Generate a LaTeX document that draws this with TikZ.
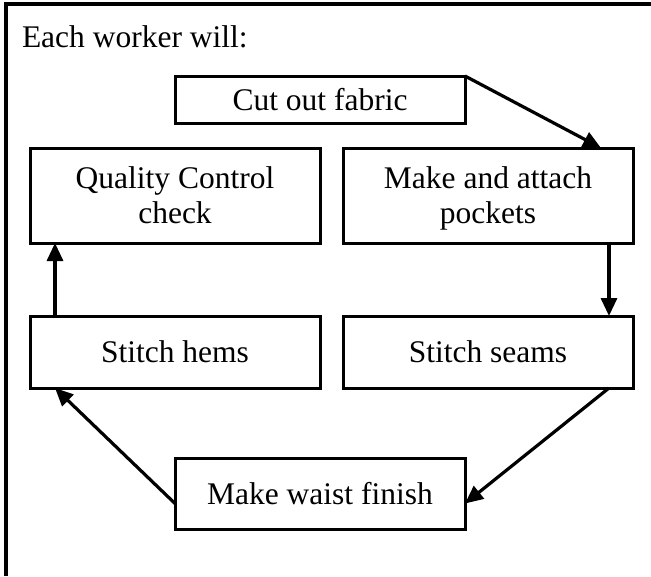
\documentclass[tikz,border=0pt]{standalone}
\usepackage{fontspec}
\setmainfont{Liberation Serif}
\usetikzlibrary{arrows.meta}

\begin{document}
\begin{tikzpicture}[x=1pt,y=-1pt,inner sep=0pt,outer sep=0pt,line width=3.2pt,
>={Triangle[length=18pt,width=16pt]},
stepbox/.style={draw,rectangle,align=center,minimum width=290pt,line width=3pt,
font=\fontsize{31.5}{35}\selectfont,text depth=0pt}]
\useasboundingbox (0,0) rectangle (651,576);
\draw (651,4) -| (6,576);
\draw (22,47) node[anchor=base west,font=\fontsize{31.5}{35}\selectfont] (title) {Each worker will:};
\draw (320,99.5) node[stepbox,minimum height=47pt] (cut) {Cut out fabric};
\draw (175,195.5) node[stepbox,minimum height=95pt] (qc) {Quality Control\\check};
\draw (488,195.5) node[stepbox,minimum height=95pt] (make) {Make and attach\\pockets};
\draw (175,352) node[stepbox,minimum height=72pt] (hems) {Stitch hems};
\draw (488,352) node[stepbox,minimum height=72pt] (seams) {Stitch seams};
\draw (320,493.5) node[stepbox,minimum height=71pt] (waist) {Make waist finish};
\draw[->] (cut.north east) -- ([xshift=-32pt]make.north east);
\draw[->] ([xshift=-24pt]make.south east) -- ([xshift=-24pt]seams.north east);
\draw[->] ([xshift=-24pt]seams.south east) -- ([yshift=-10pt]waist.east);
\draw[->] ([yshift=-10pt]waist.west) -- ([xshift=25pt]hems.south west);
\draw[->] ([xshift=25pt]hems.north west) -- ([xshift=25pt]qc.south west);

\end{tikzpicture}
\end{document}
